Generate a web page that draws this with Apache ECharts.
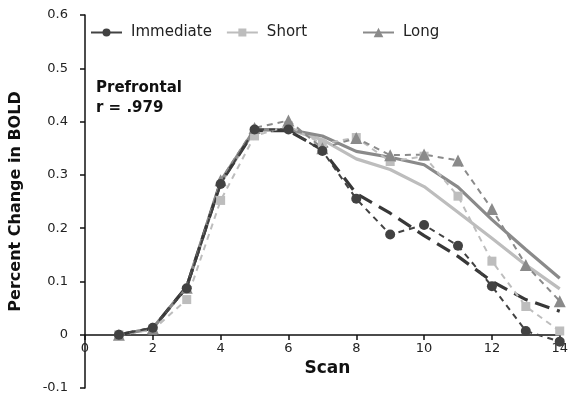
<!DOCTYPE html>
<html>
<head>
<meta charset="utf-8">
<script src="https://cdn.jsdelivr.net/npm/echarts@6/dist/echarts.min.js"></script>
<style>
  html, body { margin: 0; padding: 0; background: #fff; }
  #container { width: 571px; height: 397px; }
</style>
</head>
<body>
<div id="container"></div>
<script>
// scan numbers and observed % change in BOLD
var scans = [1, 2, 3, 4, 5, 6, 7, 8, 9, 10, 11, 12, 13, 14];
var immediate = [0, 0.013, 0.087, 0.283, 0.385, 0.385, 0.345, 0.255, 0.188, 0.206, 0.167, 0.091, 0.007, -0.013];
var short = [0, 0.009, 0.066, 0.252, 0.373, 0.392, 0.358, 0.37, 0.325, 0.335, 0.26, 0.138, 0.053, 0.007];
var long = [0, 0.012, 0.088, 0.29, 0.388, 0.402, 0.35, 0.369, 0.337, 0.338, 0.327, 0.236, 0.131, 0.063];
// model fits
var immediateFit = [0, 0.012, 0.09, 0.285, 0.383, 0.383, 0.347, 0.265, 0.228, 0.186, 0.147, 0.1, 0.066, 0.044];
var shortFit = [0, 0.012, 0.09, 0.285, 0.383, 0.385, 0.366, 0.33, 0.31, 0.278, 0.23, 0.181, 0.131, 0.086];
var longFit = [0, 0.012, 0.09, 0.288, 0.385, 0.385, 0.373, 0.344, 0.333, 0.319, 0.277, 0.216, 0.16, 0.106];
var yTicks = [-0.1, 0, 0.1, 0.2, 0.3, 0.4, 0.5, 0.6];

function pairs(vals) {
  var out = [];
  for (var i = 0; i < scans.length; i++) out.push([scans[i], vals[i]]);
  return out;
}

var FONT = 'DejaVu Sans';
var myChart = echarts.init(document.getElementById('container'));

function dataSeries(name, vals, color, symbol, size) {
  return {
    name: name, type: 'line', data: pairs(vals), z: 5,
    symbol: symbol, symbolSize: size,
    itemStyle: { color: color },
    lineStyle: { color: color, width: 2, type: [6, 5] }
  };
}
function fitSeries(name, vals, color, type) {
  return {
    name: name, type: 'line', data: pairs(vals), z: 3,
    symbol: 'none',
    lineStyle: { color: color, width: 3.2, type: type }
  };
}

myChart.setOption({
  animation: false,
  textStyle: { fontFamily: FONT },
  grid: { left: 81, right: 9, top: 15, bottom: 9 },
  legend: [
    {
      data: ['Immediate', 'Short'], left: 90, top: 25, padding: 0,
      itemWidth: 31, itemHeight: 10, itemGap: 14,
      lineStyle: { type: 'solid' },
      textStyle: { fontFamily: FONT, fontSize: 15, color: '#222', padding: [0, 0, 0, 4] }
    },
    {
      data: ['Long'], left: 362, top: 25, padding: 0,
      itemWidth: 31, itemHeight: 12,
      lineStyle: { type: 'solid' },
      textStyle: { fontFamily: FONT, fontSize: 15, color: '#222', padding: [0, 0, 0, 4] }
    }
  ],
  xAxis: {
    type: 'value', min: 0, max: 14, interval: 2,
    position: 'bottom', offset: -53,   // sits on y = 0 (one 0.1 step above the bottom)
    name: 'Scan', nameLocation: 'middle', nameGap: 20,
    nameTextStyle: { fontFamily: FONT, fontSize: 17, fontWeight: 'bold', color: '#111', padding: [0, 0, 0, 10] },
    axisLine: { show: true, onZero: false, lineStyle: { color: '#111', width: 1.5 } },
    axisTick: { show: true, length: 5, lineStyle: { color: '#111', width: 1.5 } },
    axisLabel: { fontFamily: FONT, fontSize: 13, color: '#222', margin: 7 },
    splitLine: { show: false }
  },
  yAxis: {
    type: 'value', min: yTicks[0], max: yTicks[yTicks.length - 1], interval: 0.1,
    name: 'Percent Change in BOLD', nameLocation: 'middle', nameGap: 61,
    nameTextStyle: { fontFamily: FONT, fontSize: 16, fontWeight: 'bold', color: '#111' },
    axisLine: { show: true, onZero: false, lineStyle: { color: '#111', width: 1.5 } },
    axisTick: { show: true, length: 5, lineStyle: { color: '#111', width: 1.5 } },
    axisLabel: {
      fontFamily: FONT, fontSize: 13, color: '#222', margin: 17,
      formatter: function (v) { return Math.abs(v) < 1e-9 ? '0' : v.toFixed(1); }
    },
    splitLine: { show: false }
  },
  graphic: [{
    type: 'text', left: 96, top: 78,
    style: { text: 'Prefrontal\nr = .979', font: 'bold 15px "DejaVu Sans"', fill: '#111', lineHeight: 20 }
  }],
  series: [
    fitSeries('Short fit', shortFit, '#bdbdbd', 'solid'),
    fitSeries('Long fit', longFit, '#8a8a8a', 'solid'),
    fitSeries('Immediate fit', immediateFit, '#383838', [15, 8]),
    dataSeries('Short', short, '#bdbdbd', 'rect', 9),
    dataSeries('Long', long, '#8a8a8a', 'triangle', 12),
    dataSeries('Immediate', immediate, '#424242', 'circle', 10)
  ]
});
</script>
</body>
</html>
